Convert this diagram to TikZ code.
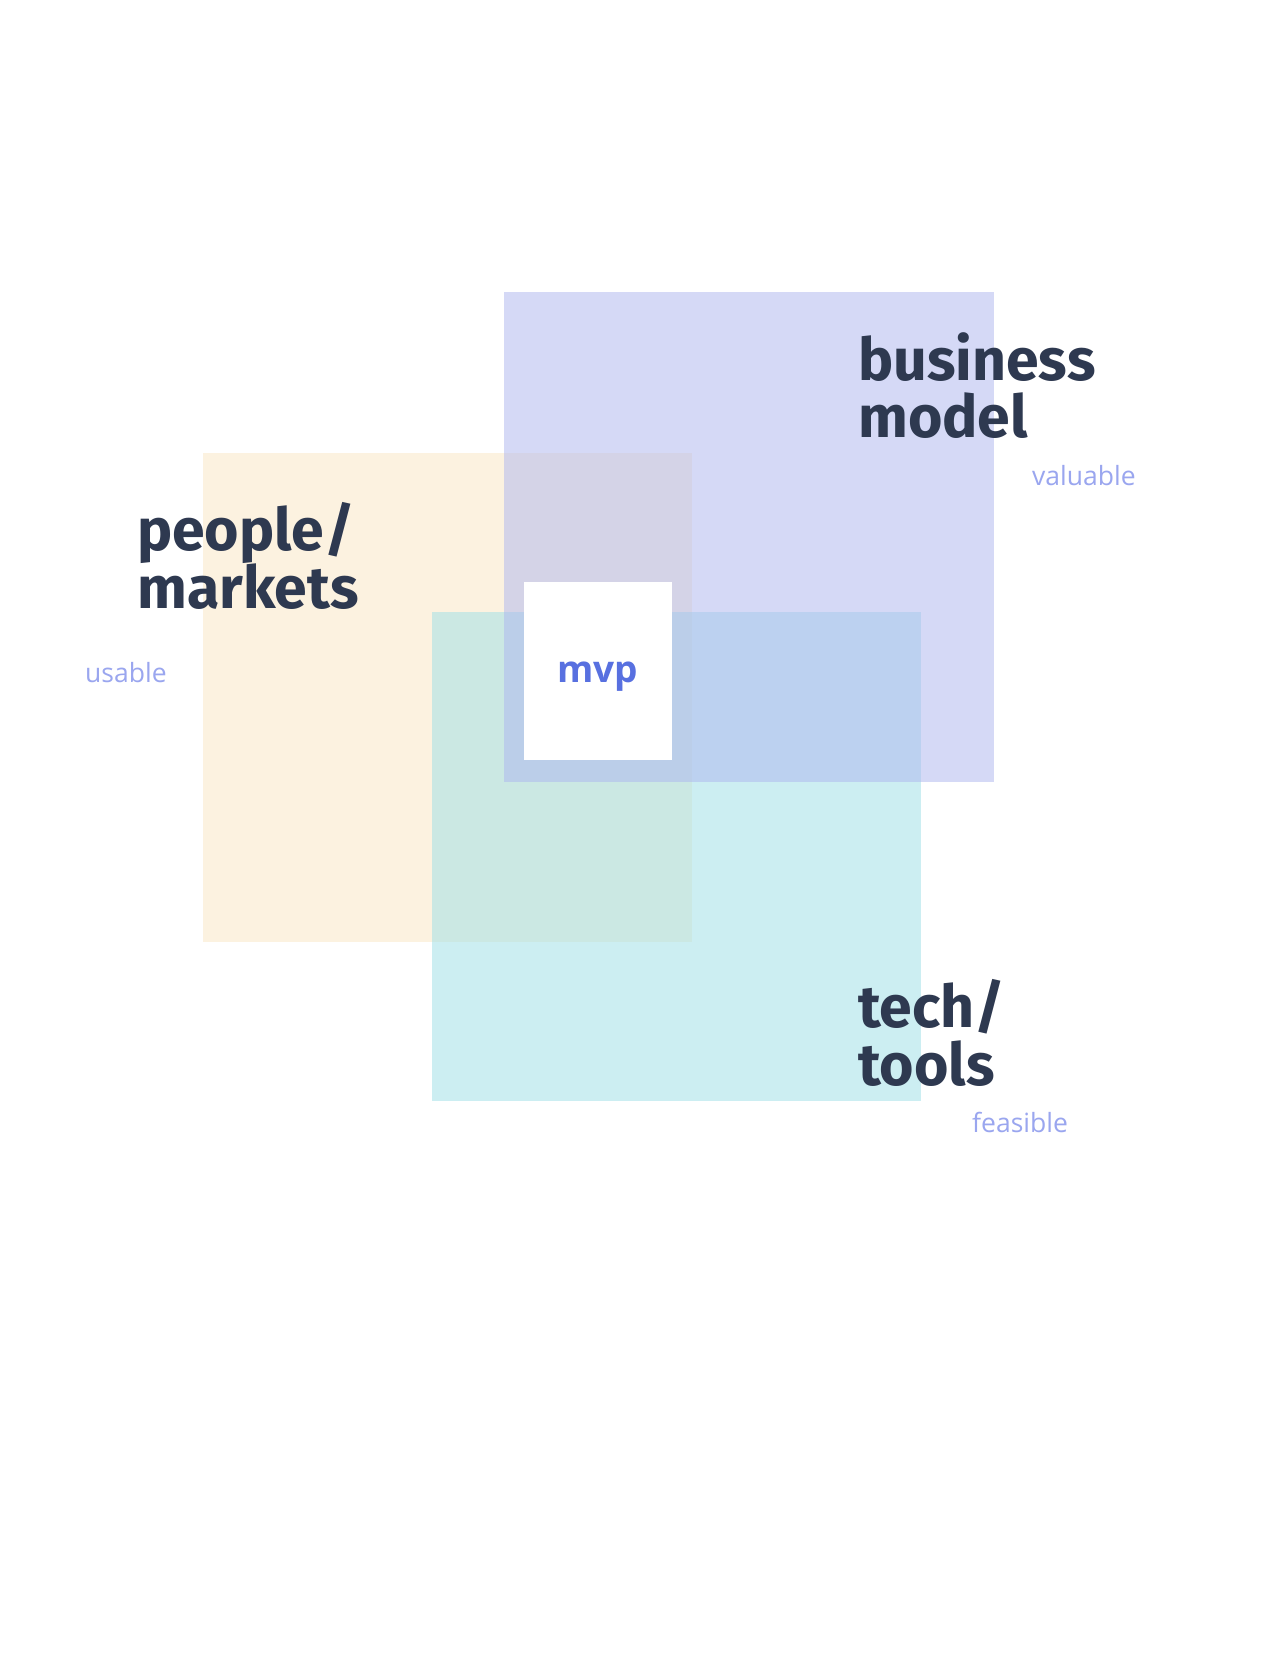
\documentclass[tikz,border=0pt]{standalone}
\usepackage{fontspec}
\newfontfamily\handfont{Fira Sans}
\newfontfamily\labelfont{Open Sans}
\definecolor{inkdark}{HTML}{2E3950}
\definecolor{softblue}{HTML}{9AA6EF}
\definecolor{mvpblue}{HTML}{5870E0}
\definecolor{sqblue}{HTML}{ADB5EF}
\definecolor{sqorange}{HTML}{FBE6C2}
\definecolor{sqcyan}{HTML}{9BDFE7}
\begin{document}
\begin{tikzpicture}[x=1pt,y=-1pt,
  square/.style={fill opacity=0.5, draw=none},
  hand/.style={font=\handfont\bfseries\fontsize{59}{57}\selectfont, text=inkdark, inner sep=0pt, anchor=base west},
  quality/.style={font=\labelfont\fontsize{26.5}{30}\selectfont, text=softblue, inner sep=0pt, anchor=base west}]
  \useasboundingbox[fill=white] (0,0) rectangle (1286,1672);

  % overlapping squares
  \fill[square, sqorange] (203,453) rectangle (692,942);
  \fill[square, sqcyan]   (432,612) rectangle (921,1101);
  \fill[square, sqblue]   (504,292) rectangle (994,782);

  % centre box
  \node[fill=white, minimum width=148pt, minimum height=178pt, inner sep=0pt, anchor=north west]
    (mvpbox) at (524,582) {};
  \node[font=\labelfont\bfseries\fontsize{37}{40}\selectfont, text=mvpblue, inner sep=0pt, anchor=base]
    (mvp) at (598,682) {mvp};

  % area titles
  \node[hand] (bizA) at (858,380) {business};
  \node[hand] (bizB) at (858,437) {model};
  \node[hand] (pplA) at (137,550) {people/};
  \node[hand] (pplB) at (137,608) {markets};
  \node[hand] (techA) at (858,1027) {tech/};
  \node[hand] (techB) at (858,1085) {tools};

  % qualities
  \node[quality] (valuable) at (1032,485) {valuable};
  \node[quality] (usable)   at (85,682)   {usable};
  \node[quality] (feasible) at (972,1132) {feasible};
\end{tikzpicture}
\end{document}
